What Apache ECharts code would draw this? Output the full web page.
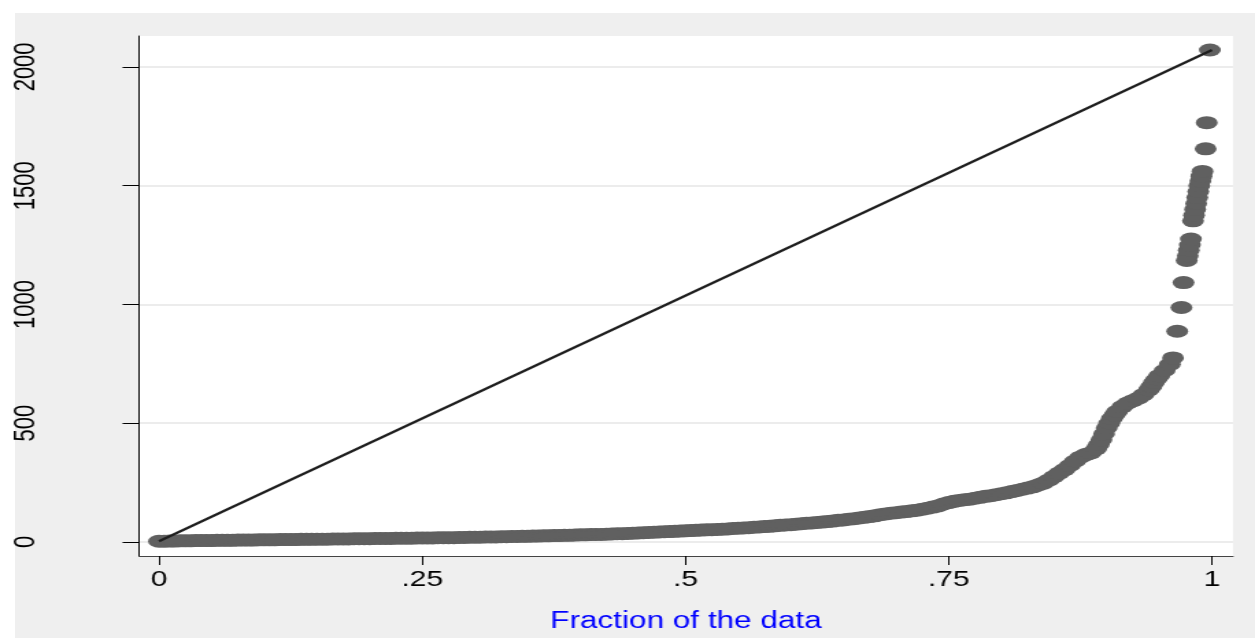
<!DOCTYPE html>
<html>
<head>
<meta charset="utf-8">
<script src="https://cdn.jsdelivr.net/npm/echarts@6.0.0/dist/echarts.min.js"></script>
<style>
  html, body { margin: 0; padding: 0; background: #fff; }
  #bg {
    position: absolute; left: 15px; top: 13px;
    width: 1240px; height: 625px; background: #efefef;
  }
  /* the reference is stretched sideways, so the chart is too */
  #main {
    position: absolute; left: 0; top: 0;
    width: 916px; height: 638px;
    transform: scaleX(1.3701); transform-origin: 0 0;
  }
</style>
</head>
<body>
<div id="bg"></div>
<div id="main"></div>
<script>
// fraction of the data (x) and the quantile value (y)
var fractions = [
  0.000, 0.005, 0.010, 0.015, 0.020, 0.025, 0.030, 0.035, 0.040, 0.045,
  0.050, 0.055, 0.060, 0.065, 0.070, 0.075, 0.080, 0.085, 0.090, 0.095,
  0.100, 0.105, 0.110, 0.115, 0.120, 0.125, 0.130, 0.135, 0.140, 0.145,
  0.150, 0.155, 0.160, 0.165, 0.170, 0.175, 0.180, 0.185, 0.190, 0.195,
  0.200, 0.205, 0.210, 0.215, 0.220, 0.225, 0.230, 0.235, 0.240, 0.245,
  0.250, 0.255, 0.260, 0.265, 0.270, 0.275, 0.280, 0.285, 0.290, 0.295,
  0.300, 0.305, 0.310, 0.315, 0.320, 0.325, 0.330, 0.335, 0.340, 0.345,
  0.350, 0.355, 0.360, 0.365, 0.370, 0.375, 0.380, 0.385, 0.390, 0.395,
  0.400, 0.405, 0.410, 0.415, 0.420, 0.425, 0.430, 0.435, 0.440, 0.445,
  0.450, 0.455, 0.460, 0.465, 0.470, 0.475, 0.480, 0.485, 0.490, 0.495,
  0.500, 0.505, 0.510, 0.515, 0.520, 0.525, 0.530, 0.535, 0.540, 0.545,
  0.550, 0.555, 0.560, 0.565, 0.570, 0.575, 0.580, 0.585, 0.590, 0.595,
  0.600, 0.605, 0.610, 0.615, 0.620, 0.625, 0.630, 0.635, 0.640, 0.645,
  0.650, 0.655, 0.660, 0.665, 0.670, 0.675, 0.680, 0.685, 0.690, 0.695,
  0.700, 0.705, 0.710, 0.715, 0.720, 0.725, 0.730, 0.735, 0.740, 0.745,
  0.750, 0.755, 0.760, 0.765, 0.770, 0.775, 0.780, 0.785, 0.790, 0.795,
  0.800, 0.805, 0.810, 0.815, 0.820, 0.825, 0.830, 0.835, 0.840, 0.845,
  0.850, 0.855, 0.860, 0.865, 0.870, 0.875, 0.880, 0.885, 0.890, 0.8925,
  0.895, 0.8975, 0.900, 0.9025, 0.905, 0.9075, 0.910, 0.915, 0.920, 0.925,
  0.930, 0.935, 0.940, 0.9425, 0.945, 0.9475, 0.950, 0.955, 0.960, 0.963,
  0.967, 0.971, 0.973,
  0.976, 0.977, 0.978, 0.979, 0.980,
  0.982, 0.983, 0.984, 0.985, 0.986, 0.987, 0.988, 0.989, 0.990, 0.991,
  0.994, 0.995, 0.998
];
var values = [
  3, 3, 4, 4, 5, 5, 5, 6, 6, 6,
  6, 7, 7, 7, 7, 8, 8, 8, 8, 9,
  9, 9, 9, 10, 10, 10, 10, 11, 11, 11,
  12, 12, 12, 13, 13, 13, 13, 14, 14, 14,
  14, 15, 15, 15, 15, 16, 16, 16, 16, 17,
  17, 17, 17, 18, 18, 18, 18, 19, 19, 20,
  20, 20, 21, 21, 21, 22, 22, 23, 23, 24,
  24, 25, 25, 26, 26, 27, 27, 28, 28, 29,
  30, 30, 31, 32, 32, 33, 34, 35, 35, 36,
  37, 38, 39, 40, 41, 42, 43, 44, 45, 46,
  47, 48, 49, 50, 51, 52, 53, 54, 55, 57,
  58, 59, 60, 62, 63, 65, 66, 68, 70, 72,
  73, 75, 77, 79, 80, 82, 84, 86, 88, 91,
  93, 96, 98, 101, 104, 107, 110, 115, 118, 121,
  123, 126, 128, 131, 134, 138, 142, 147, 152, 160,
  166, 171, 175, 178, 180, 184, 188, 192, 195, 199,
  203, 207, 212, 217, 222, 227, 232, 240, 248, 260,
  275, 290, 305, 322, 340, 357, 368, 375, 392, 410,
  430, 455, 480, 500, 520, 535, 550, 570, 585, 595,
  605, 620, 640, 655, 672, 686, 700, 722, 748, 775,
  887, 987, 1092,
  1185, 1205, 1228, 1250, 1275,
  1352, 1375, 1400, 1425, 1450, 1475, 1500, 1520, 1540, 1560,
  1655, 1765, 2071
];

var xTickValues = [0, 0.25, 0.5, 0.75, 1];
var xTickLabels = ['0', '.25', '.5', '.75', '1'];
var yTickValues = [0, 500, 1000, 1500, 2000];

var points = fractions.map(function (f, i) { return [f, values[i]]; });
// reference line from the smallest to the largest value
var refLine = [[0, values[0]], [1, values[values.length - 1]]];

var myChart = echarts.init(document.getElementById('main'));
var option = {
  animation: false,
  backgroundColor: 'transparent',
  grid: {
    show: true,
    left: 101.45,
    right: 16.06,
    top: 36,
    bottom: 81,
    backgroundColor: '#fff',
    borderWidth: 0
  },
  xAxis: {
    type: 'value',
    min: -0.019,
    max: 1.02,
    name: 'Fraction of the data',
    nameLocation: 'middle',
    nameGap: 54,
    nameTextStyle: {
      color: '#0000ff',
      fontFamily: 'Liberation Sans, Arial, sans-serif',
      fontSize: 23
    },
    axisLine: { onZero: false, lineStyle: { color: '#444', width: 1 } },
    axisTick: {
      customValues: xTickValues,
      length: 9,
      lineStyle: { color: '#000', width: 1 }
    },
    axisLabel: {
      customValues: xTickValues,
      margin: 13,
      color: '#000',
      fontFamily: 'Liberation Sans, Arial, sans-serif',
      fontSize: 22,
      formatter: function (v) {
        var i = xTickValues.indexOf(v);
        return i >= 0 ? xTickLabels[i] : '';
      }
    },
    splitLine: { show: false }
  },
  yAxis: {
    type: 'value',
    min: -59,
    max: 2130,
    axisLine: { show: true, onZero: false, lineStyle: { color: '#000', width: 1 } },
    axisTick: {
      show: true,
      customValues: yTickValues,
      length: 12,
      lineStyle: { color: '#000', width: 1 }
    },
    axisLabel: {
      customValues: yTickValues,
      rotate: 90,
      margin: 72,
      color: '#000',
      fontFamily: 'Liberation Sans, Arial, sans-serif',
      fontSize: 22,
      formatter: function (v) { return String(v); }
    },
    splitLine: { show: true, lineStyle: { color: '#e6e6e6', width: 1.5 } }
  },
  series: [
    {
      name: 'quantiles',
      type: 'scatter',
      data: points,
      symbol: 'circle',
      symbolSize: [16, 13],
      itemStyle: { color: '#606060', opacity: 1 },
      z: 2
    },
    {
      name: 'reference',
      type: 'line',
      data: refLine,
      symbol: 'none',
      lineStyle: { color: '#1e1e1e', width: 2.2 },
      z: 3
    }
  ]
};
myChart.setOption(option);
</script>
</body>
</html>
